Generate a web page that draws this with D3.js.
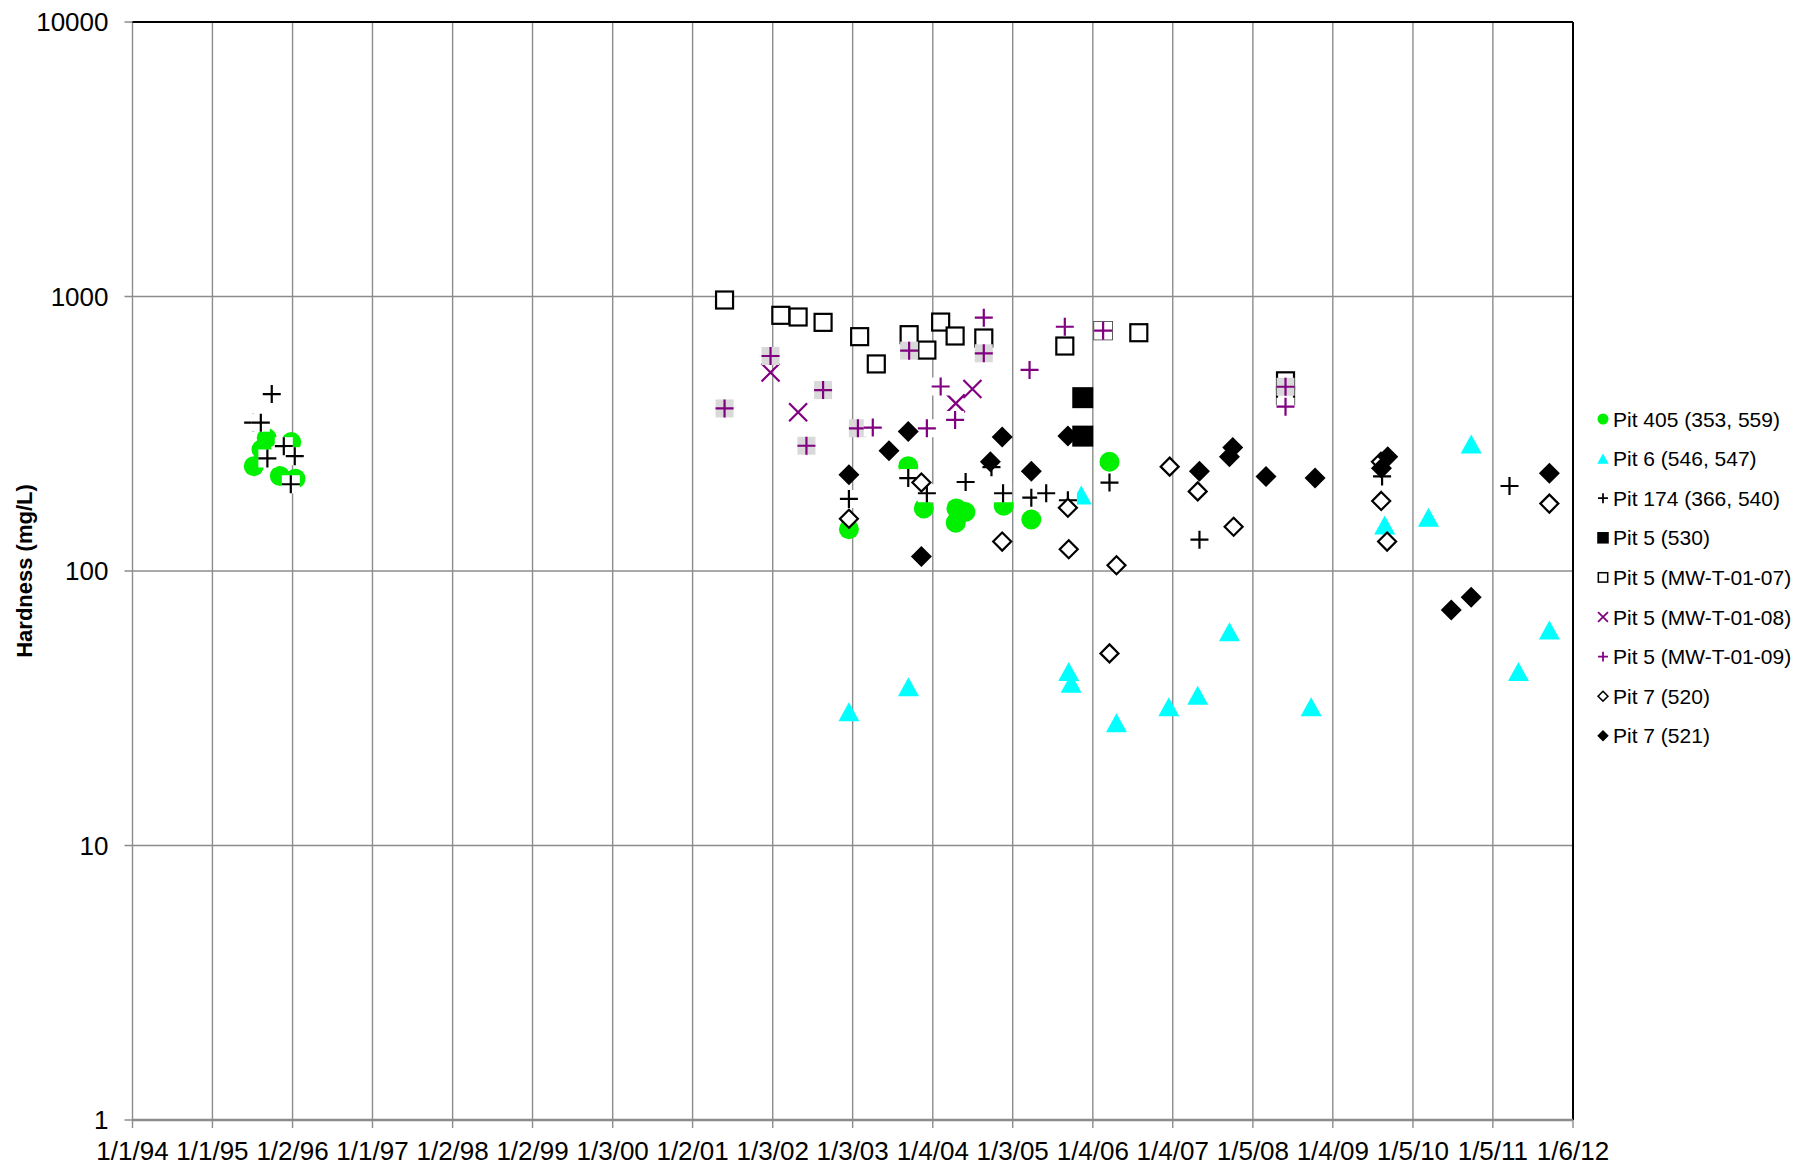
<!DOCTYPE html>
<html lang="en">
<head>
<meta charset="UTF-8">
<title>Hardness</title>
<script src="https://d3js.org/d3.v7.min.js"></script>
<style>
    body { margin: 0; background: #fff; font-family: "Liberation Sans", Arial, sans-serif; }
    .tick-label { font-size: 26px; fill: #000; }
    .legend-label { font-size: 21px; fill: #000; }
    .axis-title { font-size: 22px; font-weight: bold; fill: #000; }
</style>
</head>
<body>
<svg width="1799" height="1167"></svg>
<script>
// tick labels of the date axis (m/d/yy)
const xTickLabels = ["1/1/94","1/1/95","1/2/96","1/1/97","1/2/98","1/2/99","1/3/00","1/2/01","1/3/02","1/3/03",
    "1/4/04","1/3/05","1/4/06","1/4/07","1/5/08","1/4/09","1/5/10","1/5/11","1/6/12"];
const yTicks = [1, 10, 100, 1000, 10000];

// [date, hardness mg/L]
const pit405 = [["1995-07-09",241],["1995-08-13",277],["1995-09-06",305],["1995-11-05",222],["1995-12-27",295],["1996-01-15",217],
    ["2002-12-17",142],["2003-09-14",241],["2003-11-24",169],["2004-04-21",169],["2004-04-18",150],["2004-06-01",164],
    ["2004-11-23",173],["2005-03-29",154],["2006-03-21",250]];
const pit6 = [["2002-12-17",30.7],["2003-09-15",37.9],["2005-09-16",43],["2005-09-27",39],["2005-11-12",189],["2006-04-22",28],
    ["2006-12-17",32],["2007-04-28",35.3],["2007-09-20",60.1],["2008-09-27",32],["2009-08-29",147],["2010-03-17",157],
    ["2010-09-28",290],["2011-05-02",43],["2011-09-20",61]];
const pit174 = [["1995-07-06",347],["1995-08-10",347],["1995-09-29",441],["1995-11-23",285],["1996-01-12",262],["1995-09-09",257],
    ["1995-12-25",207],["2002-12-17",183],["2003-09-14",218],["2003-12-08",192],["2004-06-02",211],["2004-09-28",239],
    ["2004-11-20",192],["2005-03-29",185],["2005-06-05",192],["2005-09-12",181],["2006-03-21",210],["2007-05-06",130],
    ["2009-08-17",221],["2011-03-22",204]];
const pit5_530 = [["2005-11-19",428],["2005-11-19",310]];
const pit5_mw07 = [["2001-05-28",971],["2002-02-09",854],["2002-04-29",842],["2002-08-21",805],["2003-02-04",714],["2003-04-21",568],
    ["2003-09-18",726],["2003-12-08",638],["2004-02-09",807],["2004-04-15",718],["2004-08-24",706],["2005-08-29",660],
    ["2006-02-20",751],["2006-08-02",738],["2008-06-02",493],["2008-06-02",435]];
const pit5_mw08 = [["2001-12-24",529],["2002-04-29",379],["2004-04-18",408],["2004-07-03",460]];
const pit5_mw09 = [["2003-04-05",333],["2003-12-08",331],["2004-02-09",470],["2004-04-15",355],["2004-08-24",837],["2005-03-21",540],
    ["2005-08-29",776],["2006-02-20",751],["2008-06-02",397]];
// MW-T-01-09 samples drawn with the grey marker fill
const pit5_mw09Grey = [["2001-05-28",391],["2001-12-24",607],["2002-08-21",456],["2002-06-06",286],["2003-01-27",331],
    ["2003-09-18",635],["2004-08-24",621],["2008-06-02",469]];
const pit7_520 = [["2002-12-17",155],["2003-11-13",210],["2004-11-16",128],["2005-09-12",170],["2005-09-16",120],["2006-04-22",105],
    ["2006-03-21",50.1],["2006-12-21",240],["2007-04-28",195],["2007-10-09",145],["2009-08-12",250],["2009-08-13",180],
    ["2009-09-09",128],["2011-09-20",176]];
const pit7_521 = [["2002-12-17",224],["2003-06-18",274],["2003-09-14",322],["2003-11-13",113],["2004-09-23",250],["2004-11-16",308],
    ["2005-03-29",231],["2005-09-12",310],["2007-05-06",231],["2007-10-05",282],["2007-09-20",261],["2008-03-05",221],
    ["2008-10-15",218],["2009-09-12",261],["2009-08-14",237],["2010-06-29",72.1],["2010-09-28",80.2],["2011-09-20",227]];

const series = [
    {name: "Pit 405 (353, 559)", data: pit405, shape: "circle", color: "#00f000"},
    {name: "Pit 6 (546, 547)", data: pit6, shape: "triangle", color: "#00ffff"},
    {name: "Pit 174 (366, 540)", data: pit174, shape: "plus", color: "#000", fill: "#fff"},
    {name: "Pit 5 (530)", data: pit5_530, shape: "square", color: "#000"},
    {name: "Pit 5 (MW-T-01-07)", data: pit5_mw07, shape: "openSquare", color: "#000"},
    {name: "Pit 5 (MW-T-01-08)", data: pit5_mw08, shape: "x", color: "#800080"},
    {name: "Pit 5 (MW-T-01-09)", data: pit5_mw09Grey, shape: "plus", color: "#800080", fill: "#d9d9d9", noLegend: true},
    {name: "Pit 5 (MW-T-01-09)", data: pit5_mw09, shape: "plus", color: "#800080", fill: "#fff"},
    {name: "Pit 7 (520)", data: pit7_520, shape: "openDiamond", color: "#000"},
    {name: "Pit 7 (521)", data: pit7_521, shape: "diamond", color: "#000"}
];

const svg = d3.select("svg");
const margin = {top: 22, right: 226, bottom: 47, left: 132.5};
const width = 1799, height = 1167;
const parseTick = d3.utcParse("%m/%d/%y");
const parseDate = d3.utcParse("%Y-%m-%d");
const tickDates = xTickLabels.map(parseTick);

const x = d3.scaleUtc()
    .domain([tickDates[0], tickDates[tickDates.length - 1]])
    .range([margin.left, width - margin.right]);
const y = d3.scaleLog()
    .domain([1, 10000])
    .range([height - margin.bottom, margin.top]);

const grid = "#8c8c8c";

// gridlines
svg.append("g").selectAll("line").data(tickDates).join("line")
    .attr("x1", d => x(d)).attr("x2", d => x(d))
    .attr("y1", y(10000)).attr("y2", y(1) + 8)
    .attr("stroke", grid).attr("stroke-width", 1.4);
svg.append("g").selectAll("line").data(yTicks).join("line")
    .attr("x1", x.range()[0] - 8).attr("x2", x.range()[1])
    .attr("y1", d => y(d)).attr("y2", d => y(d))
    .attr("stroke", grid).attr("stroke-width", 1.4);

// plot area border: top and right black, axes grey
svg.append("line").attr("x1", x.range()[0]).attr("x2", x.range()[1])
    .attr("y1", y(10000)).attr("y2", y(10000)).attr("stroke", "#000").attr("stroke-width", 2);
svg.append("line").attr("x1", x.range()[1]).attr("x2", x.range()[1])
    .attr("y1", y(10000)).attr("y2", y(1)).attr("stroke", "#000").attr("stroke-width", 2);
svg.append("line").attr("x1", x.range()[0]).attr("x2", x.range()[1])
    .attr("y1", y(1)).attr("y2", y(1)).attr("stroke", grid).attr("stroke-width", 2.6);

// tick labels
svg.append("g").selectAll("text").data(tickDates).join("text")
    .attr("class", "tick-label")
    .attr("x", d => x(d)).attr("y", y(1) + 40)
    .attr("text-anchor", "middle")
    .text((d, i) => xTickLabels[i]);
svg.append("g").selectAll("text").data(yTicks).join("text")
    .attr("class", "tick-label")
    .attr("x", x.range()[0] - 24).attr("y", d => y(d) + 9)
    .attr("text-anchor", "end")
    .text(d => d3.format("d")(d));

svg.append("text")
    .attr("class", "axis-title")
    .attr("transform", `translate(32,${(y(1) + y(10000)) / 2}) rotate(-90)`)
    .attr("text-anchor", "middle")
    .text("Hardness (mg/L)");

function marker(g, s, k) {
    const c = s.color;
    if (s.shape === "circle") {
        g.append("circle").attr("r", 10 * k).attr("fill", c);
    } else if (s.shape === "triangle") {
        const w = 21 * k, h = 19 * k;
        g.append("path").attr("d", `M0,${-h / 2}L${w / 2},${h / 2}L${-w / 2},${h / 2}Z`).attr("fill", c);
    } else if (s.shape === "plus") {
        const r = 9 * k;
        if (k === 1) g.append("rect").attr("x", -r).attr("y", -r).attr("width", 2 * r).attr("height", 2 * r).attr("fill", s.fill);
        g.append("path").attr("d", `M${-r},0H${r}M0,${-r}V${r}`).attr("stroke", c).attr("stroke-width", 2.2 * Math.max(k, 0.8)).attr("fill", "none");
    } else if (s.shape === "square") {
        const r = 10.5 * k;
        g.append("rect").attr("x", -r).attr("y", -r).attr("width", 2 * r).attr("height", 2 * r).attr("fill", c);
    } else if (s.shape === "openSquare") {
        const r = 8.5 * k;
        g.append("rect").attr("x", -r).attr("y", -r).attr("width", 2 * r).attr("height", 2 * r)
            .attr("fill", "#fff").attr("stroke", c).attr("stroke-width", 2.2 * Math.max(k, 0.7));
    } else if (s.shape === "x") {
        const r = 9 * k;
        g.append("path").attr("d", `M${-r},${-r}L${r},${r}M${r},${-r}L${-r},${r}`).attr("stroke", c).attr("stroke-width", 2.2 * Math.max(k, 0.8));
    } else if (s.shape === "openDiamond") {
        const r = 9 * k;
        g.append("path").attr("d", `M0,${-r}L${r},0L0,${r}L${-r},0Z`)
            .attr("fill", "#fff").attr("stroke", c).attr("stroke-width", 2.2 * Math.max(k, 0.7));
    } else if (s.shape === "diamond") {
        const r = 10.5 * k;
        g.append("path").attr("d", `M0,${-r}L${r},0L0,${r}L${-r},0Z`).attr("fill", c);
    }
}

// points
series.forEach(s => {
    const g = svg.append("g");
    s.data.forEach(d => {
        const m = g.append("g").attr("transform", `translate(${x(parseDate(d[0]))},${y(d[1])})`);
        marker(m, s, 1);
    });
});

// legend
const legend = svg.append("g");
series.filter(s => !s.noLegend).forEach((s, i) => {
    const row = legend.append("g").attr("transform", `translate(1603,${419 + i * 39.6})`);
    marker(row, s, 0.55);
    row.append("text").attr("class", "legend-label").attr("x", 10).attr("y", 7.5).text(s.name);
});
</script>
</body>
</html>
